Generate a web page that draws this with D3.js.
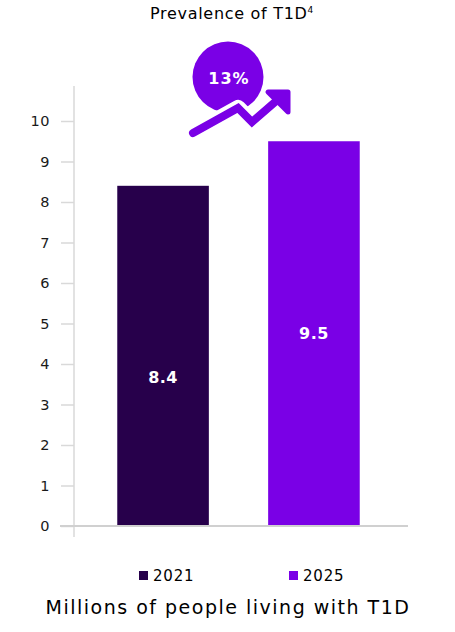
<!DOCTYPE html>
<html>
<head>
<meta charset="utf-8">
<script src="https://cdn.jsdelivr.net/npm/d3@7"></script>
<style>
  body { margin: 0; background: #fff; }
  svg text { font-family: "DejaVu Sans", Verdana, sans-serif; }
</style>
</head>
<body>
<div id="chart"></div>
<script>
// data
var years = ["2021", "2025"];
var values = [8.4, 9.5];
var yTicks = [0, 1, 2, 3, 4, 5, 6, 7, 8, 9, 10];
var growthLabel = "13%";
var chartTitle = "Prevalence of T1D";
var titleSup = "4";
var axisTitle = "Millions of people living with T1D";

var colors = ["#27004b", "#7a00e6"];

var W = 455, H = 632;

var svg = d3.select("#chart").append("svg")
  .attr("width", W)
  .attr("height", H);

// scales
var y = d3.scaleLinear().domain([0, 10]).range([526, 121]);
var x = d3.scaleBand().domain(years).range([72, 405]).paddingInner(0.393).paddingOuter(0.3);

// title
var t = svg.append("text")
  .attr("x", 232).attr("y", 19)
  .attr("text-anchor", "middle")
  .style("font-size", "16px")
  .style("letter-spacing", "0.7px")
  .style("fill", "#000")
  .text(chartTitle);
t.append("tspan").attr("dy", -6).style("font-size", "9px").text(titleSup);

// y axis
var yAxis = svg.append("g")
  .attr("transform", "translate(74,0)")
  .call(d3.axisLeft(y).tickValues(yTicks).tickSize(13).tickPadding(11).tickFormat(d3.format("d")));
yAxis.select(".domain").remove();
yAxis.selectAll(".tick line").attr("stroke", "#d9d9d9").attr("stroke-width", 1.5);
yAxis.selectAll(".tick text")
  .style("font-size", "14.5px")
  .style("letter-spacing", "0.5px")
  .style("fill", "#1a1a1a");

svg.append("line")
  .attr("x1", 74).attr("x2", 74)
  .attr("y1", 86).attr("y2", 537)
  .attr("stroke", "#d9d9d9").attr("stroke-width", 1.5);

// bars
svg.selectAll("rect.bar")
  .data(values)
  .enter().append("rect")
  .attr("class", "bar")
  .attr("x", function(d, i) { return x(years[i]); })
  .attr("y", function(d) { return y(d); })
  .attr("width", x.bandwidth())
  .attr("height", function(d) { return y(0) - y(d); })
  .attr("fill", function(d, i) { return colors[i]; });

// baseline
svg.append("line")
  .attr("x1", 60).attr("x2", 408)
  .attr("y1", y(0)).attr("y2", y(0))
  .attr("stroke", "#d0d0d0").attr("stroke-width", 2);

// value labels
var labelDy = [21, 0];
svg.selectAll("text.val")
  .data(values)
  .enter().append("text")
  .attr("class", "val")
  .attr("x", function(d, i) { return x(years[i]) + x.bandwidth() / 2; })
  .attr("y", function(d, i) { return (y(d) + y(0)) / 2 + labelDy[i]; })
  .attr("dy", "0.36em")
  .attr("text-anchor", "middle")
  .style("font-size", "16px")
  .style("font-weight", "bold")
  .style("letter-spacing", "0.5px")
  .style("fill", "#fff")
  .text(function(d) { return d3.format(".1f")(d); });

// growth badge
svg.append("circle")
  .attr("cx", 228).attr("cy", 77).attr("r", 35.5)
  .attr("fill", colors[1]);
svg.append("text")
  .attr("x", 229).attr("y", 78)
  .attr("dy", "0.36em")
  .attr("text-anchor", "middle")
  .style("font-size", "16px")
  .style("font-weight", "bold")
  .style("letter-spacing", "1px")
  .style("fill", "#fff")
  .text(growthLabel);

var arrowPts = [[193, 133], [238, 108], [252, 122], [282, 96]];
var line = d3.line();
svg.append("path")
  .attr("d", line(arrowPts))
  .attr("fill", "none")
  .attr("stroke", "#fff")
  .attr("stroke-width", 16)
  .attr("stroke-linecap", "round")
  .attr("stroke-linejoin", "round");
svg.append("path")
  .attr("d", line(arrowPts))
  .attr("fill", "none")
  .attr("stroke", colors[1])
  .attr("stroke-width", 8)
  .attr("stroke-linecap", "round")
  .attr("stroke-linejoin", "miter");
svg.append("path")
  .attr("d", "M268,92 L288,92 L288,112 Z")
  .attr("fill", colors[1])
  .attr("stroke", colors[1])
  .attr("stroke-width", 5)
  .attr("stroke-linejoin", "round");

// legend
var legend = svg.selectAll("g.leg")
  .data(years)
  .enter().append("g")
  .attr("class", "leg")
  .attr("transform", function(d, i) { return "translate(" + (139 + i * 150) + ",571)"; });
legend.append("rect")
  .attr("width", 9).attr("height", 9)
  .attr("fill", function(d, i) { return colors[i]; });
legend.append("text")
  .attr("x", 14).attr("y", 4.5)
  .attr("dy", "0.36em")
  .style("font-size", "15px")
  .style("letter-spacing", "0.8px")
  .style("fill", "#000")
  .text(function(d) { return d; });

// axis title
svg.append("text")
  .attr("x", 228).attr("y", 614)
  .attr("text-anchor", "middle")
  .style("font-size", "19px")
  .style("letter-spacing", "1.5px")
  .style("fill", "#000")
  .text(axisTitle);
</script>
</body>
</html>
